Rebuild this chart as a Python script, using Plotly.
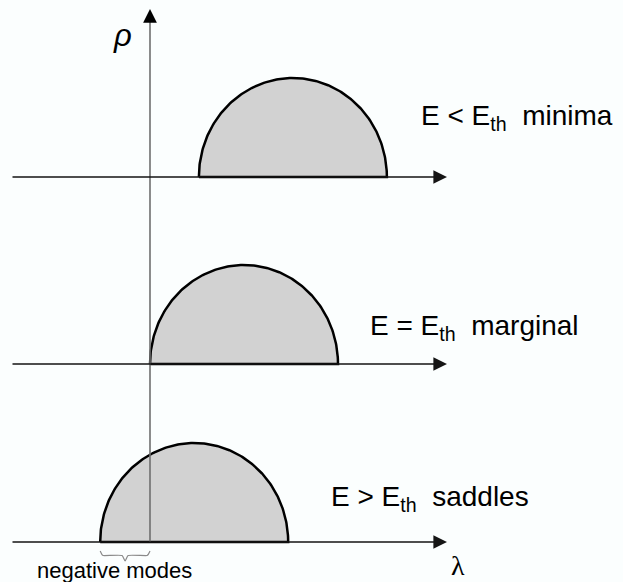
import numpy as np
import plotly.graph_objects as go

# ---- data ----
regimes = ["minima", "marginal", "saddles"]
labels = ["E < E<sub>th</sub>\u00a0\u00a0minima",
          "E = E<sub>th</sub>\u00a0\u00a0marginal",
          "E > E<sub>th</sub>\u00a0\u00a0saddles"]
centers = [1.52, 1.0, 0.47]      # centre of semicircle spectrum (lambda units)
radii = [1.0, 1.0, 1.0]          # half-width of the spectrum
peaks = [1.0, 1.0, 1.0]          # maximum density rho

# ---- layout constants (pixel-derived) ----
W, H = 623, 582
PX_X, PX_Y = 94.0, 99.0          # pixels per unit
X0_PX = 150.0                    # lambda = 0 position


def lx(px):
    return (px - X0_PX) / PX_X


def ly(py):
    return (H - py) / PX_Y


baselines = [ly(177), ly(364), ly(542)]
axis_left, axis_tip = lx(11), lx(447)
label_pos = [(lx(419), ly(117)), (lx(368), ly(327)), (lx(329), ly(498))]

fig = go.Figure()

# semicircle spectra
for c, r, p, b, name in zip(centers, radii, peaks, baselines, regimes):
    t = np.linspace(np.pi, 0, 181)
    xs = list(c + r * np.cos(t)) + [c - r]
    ys = list(b + p * np.sin(t)) + [b]
    fig.add_trace(go.Scatter(x=xs, y=ys, mode="lines", fill="toself",
                             fillcolor="#d2d2d2",
                             line=dict(color="black", width=2.5),
                             name=name, hoverinfo="skip"))

# vertical rho axis line (gray)
v_tip = ly(9)
fig.add_trace(go.Scatter(x=[0, 0], y=[baselines[2], v_tip - 10 / PX_Y], mode="lines",
                         line=dict(color="#6f6f6f", width=1.6), hoverinfo="skip"))

# brace for negative modes
L = centers[2] - radii[2]
M = L / 2
bt, bm, bb = ly(551), ly(555.5), ly(561)
d = 3 / PX_X
bx = [L, L + d * 0.6, L + d, M - d, M, M + d, -d, -d * 0.6, 0]
by = [bt, bm + 0.01, bm, bm, bb, bm, bm, bm + 0.01, bt]
fig.add_trace(go.Scatter(x=bx, y=by, mode="lines", line=dict(color="#8a8a8a", width=1.2,
                         shape="spline", smoothing=0.4), hoverinfo="skip"))

annotations = []
# horizontal axes with arrows
for b in baselines:
    annotations.append(dict(x=axis_tip, y=b, ax=axis_left, ay=b, xref="x", yref="y",
                            axref="x", ayref="y", text="", showarrow=True,
                            arrowhead=2, arrowsize=2.1, arrowwidth=1.3,
                            arrowcolor="#151515", standoff=0))
# vertical arrowhead (black)
annotations.append(dict(x=0, y=v_tip, ax=0, ay=v_tip - 12 / PX_Y, xref="x", yref="y",
                        axref="x", ayref="y", text="", showarrow=True,
                        arrowhead=2, arrowsize=2.3, arrowwidth=1.2,
                        arrowcolor="black", standoff=0))

for (x, y), t in zip(label_pos, labels):
    annotations.append(dict(x=x, y=y, xref="x", yref="y", text=t, showarrow=False,
                            xanchor="left", yanchor="middle",
                            font=dict(family="Liberation Sans", size=28, color="black")))

annotations.append(dict(x=lx(122), y=ly(35), xref="x", yref="y", text="<i>ρ</i>",
                        showarrow=False, xanchor="center", yanchor="middle",
                        font=dict(family="Liberation Sans", size=31, color="black")))
annotations.append(dict(x=lx(458), y=ly(565), xref="x", yref="y", text="λ",
                        showarrow=False, xanchor="center", yanchor="middle",
                        font=dict(family="Liberation Serif", size=28, color="black")))
annotations.append(dict(x=lx(114), y=ly(570), xref="x", yref="y", text="negative modes",
                        showarrow=False, xanchor="center", yanchor="middle",
                        font=dict(family="Liberation Sans", size=22, color="black")))

fig.update_layout(
    width=W, height=H, margin=dict(l=0, r=0, t=0, b=0),
    paper_bgcolor="#fbfefe", plot_bgcolor="#fbfefe",
    showlegend=False, annotations=annotations,
    xaxis=dict(range=[lx(0), lx(W)], visible=False, fixedrange=True),
    yaxis=dict(range=[ly(H), ly(0)], visible=False, fixedrange=True),
)

fig.write_html("out.html", config={"displayModeBar": False},
               post_script="document.body.style.margin='0';document.body.style.overflow='hidden';")
